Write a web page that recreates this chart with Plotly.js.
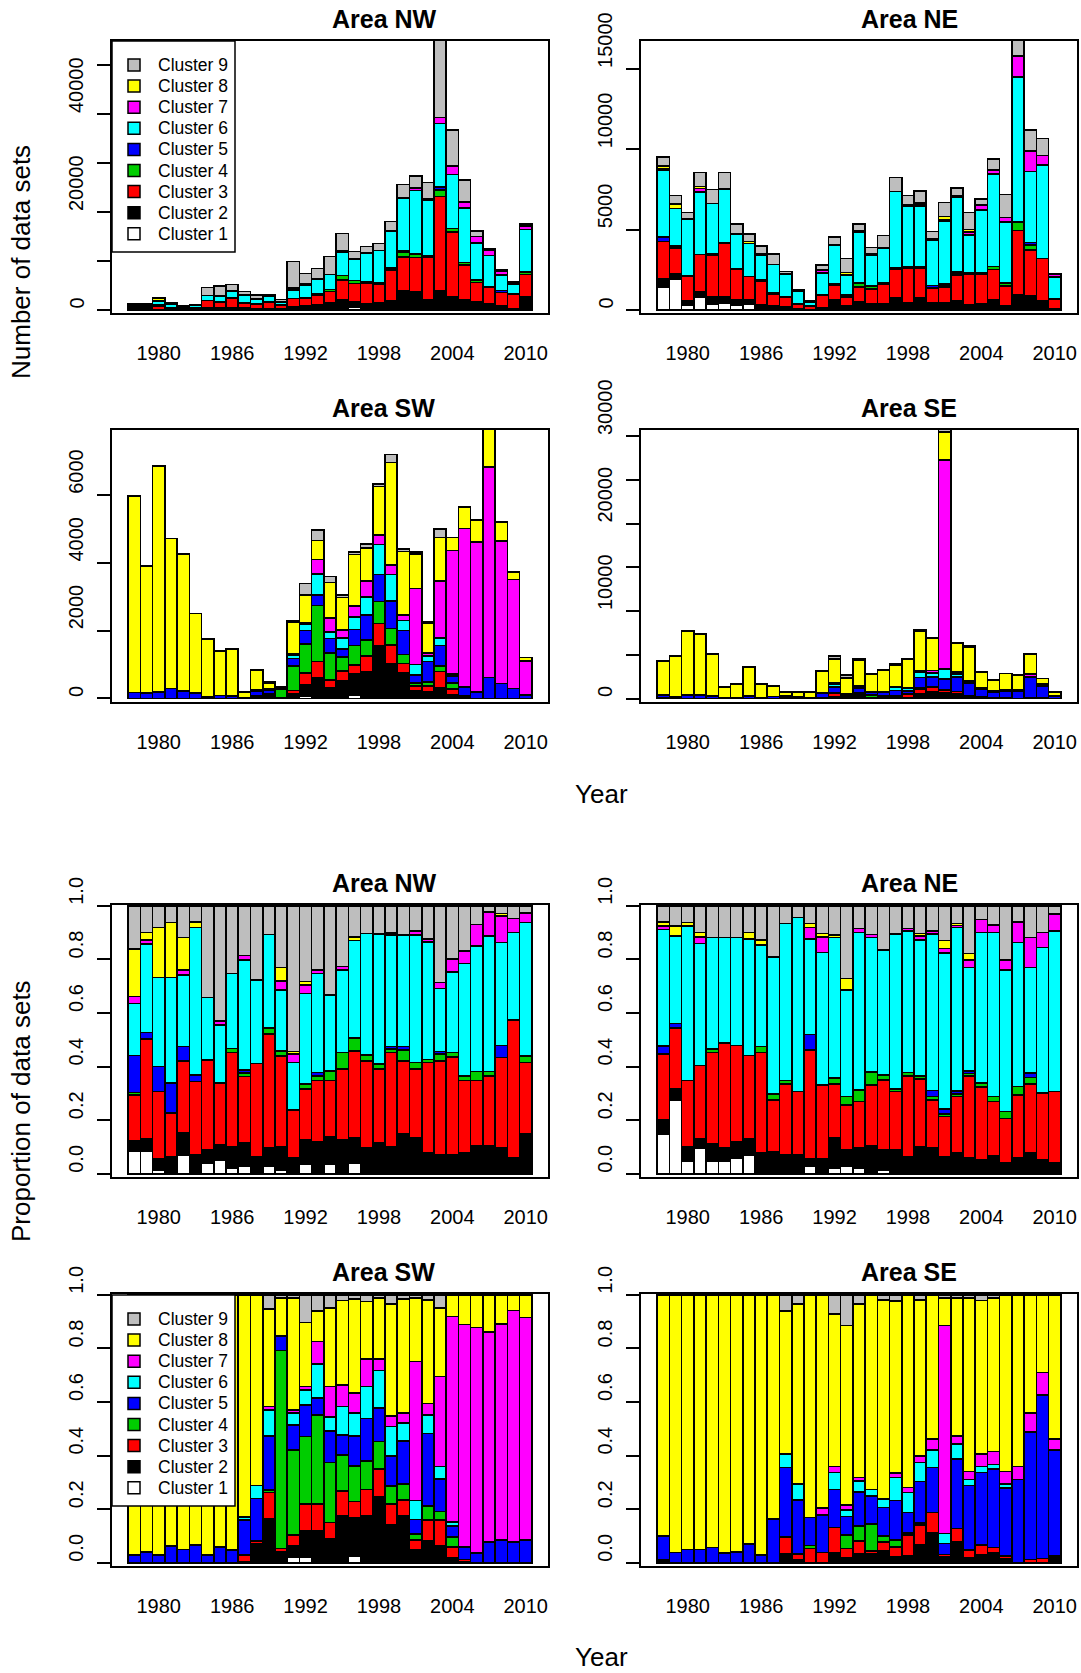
<!DOCTYPE html>
<html>
<head>
<meta charset="utf-8">
<script src="https://cdn.plot.ly/plotly-3.0.1.min.js"></script>
<style>html,body{margin:0;padding:0;background:#fff;}</style>
</head>
<body>
<div id="chart" style="width:1081px;height:1673px;"></div>
<script>
// Survey years (one bar per year)
const years = [1978,1979,1980,1981,1982,1983,1984,1985,1986,1987,1988,1989,1990,
  1991,1992,1993,1994,1995,1996,1997,1998,1999,2000,2001,2002,2003,2004,2005,
  2006,2007,2008,2009,2010];
const tickYears = [1980,1986,1992,1998,2004,2010];

const clusterNames = ['Cluster 1','Cluster 2','Cluster 3','Cluster 4','Cluster 5',
  'Cluster 6','Cluster 7','Cluster 8','Cluster 9'];
const clusterColors = ['#FFFFFF','#000000','#FF0000','#00CD00','#0000FF',
  '#00FFFF','#FF00FF','#FFFF00','#BEBEBE'];

// Total number of data sets per year, by area
const nwTotal = [1220,1220,2590,1500,950,1160,4560,4900,5240,3740,3060,3060,2180,
  9930,7480,8500,10880,15650,11900,12930,13600,18030,25650,27400,25990,55000,
  36730,26530,16120,12520,8300,5780,17550];
const neTotal = [9540,7120,6080,8550,7510,8550,5350,4730,4000,3490,2390,1240,560,
  2800,4560,3200,5350,3900,4630,8240,7120,7410,4880,6680,7610,6080,6890,9380,
  7200,16800,11200,10680,2280];
const swTotal = [5980,3920,6870,4730,4270,2510,1750,1410,1460,200,840,490,350,
  2290,3400,4970,3600,3050,4320,4560,6340,7210,4410,4320,2270,5000,4760,5650,
  5270,7950,5220,3740,1210];
const seTotal = [4310,4850,7750,7370,5080,1340,1640,3630,1640,1450,760,760,760,
  3170,4890,2670,4500,2790,3240,3930,4500,7900,6950,30800,6370,5990,3050,2100,
  2860,2670,5080,2290,760];

// Share of each cluster (%) per year: [C1, C2, C3, C4, C5, C6, C7, C8, C9]
const nwShare = [
  [8.3,4.1,17.0,1.0,13.7,19.5,2.5,17.8,16.1],
  [8.3,4.7,37.2,0,2.5,33.0,1.5,2.8,10.0],
  [1.5,4.0,25.2,0,9.3,33.3,0,18.6,8.1],
  [0.6,5.9,16.1,0,11.2,39.5,0,20.5,6.2],
  [7.1,8.1,26.9,0,5.4,26.7,1.8,12.2,11.8],
  [0,7.1,27.3,0,2.5,55.0,0,2.1,6.0],
  [4.0,4.9,33.6,0,0,23.3,0,0,34.2],
  [5.2,5.6,23.0,0,0,21.7,1.6,0,42.9],
  [2.1,8.1,35.0,1.6,0,28.0,0,0,25.2],
  [2.7,8.7,24.9,1.2,1.3,41.0,1.6,0,18.6],
  [0.6,5.9,34.7,0,0,31.1,0,0,27.7],
  [2.7,6.9,42.6,2.1,0,35.0,0,0,10.7],
  [1.5,8.7,33.8,1.8,0,22.8,3.4,5.0,23.0],
  [0.6,5.5,17.8,0,0,17.7,3.0,1.0,54.4],
  [3.4,9.3,19.0,1.7,0,33.9,3.1,1.3,28.3],
  [0.6,11.4,22.8,1.7,1.3,37.0,1.2,0,24.0],
  [3.4,10.5,20.9,3.6,0,28.3,0,0,33.3],
  [0.6,12.1,26.4,6.1,0,30.8,1.3,0,22.7],
  [4.0,9.3,32.5,4.8,0,36.4,0,1.4,11.6],
  [0,9.6,32.5,2.2,0,45.4,0,0,10.3],
  [0,11.4,27.7,1.9,0,48.4,0,0,10.6],
  [0,10.2,35.1,1.2,1.0,41.6,0.8,0,10.1],
  [0,14.9,27.2,4.1,1.3,41.6,0,0,10.9],
  [0.6,12.7,25.8,2.4,0,47.6,1.6,0,9.3],
  [0,7.7,33.9,1.1,0,43.9,1.0,0,12.4],
  [0,7.1,35.0,2.5,1.0,23.6,2.2,0,28.6],
  [0,7.1,36.4,1.8,0,30.1,4.7,0,19.9],
  [0,7.7,27.1,1.8,0,41.9,4.7,0,16.8],
  [0,10.6,24.2,3.3,0,47.0,7.9,0,7.0],
  [0,10.6,26.0,1.5,0,50.7,9.0,0,2.2],
  [0,9.6,33.8,0,4.4,38.5,9.8,1.0,2.9],
  [0,5.8,51.6,0,0,32.7,5.2,0,4.7],
  [0.6,14.2,26.7,2.5,0,49.8,3.6,0,2.6]
];
const neShare = [
  [14.9,5.2,24.5,0,3.1,43.5,1.2,1.6,6.0],
  [27.3,4.6,22.4,0,1.8,32.7,0,3.6,7.6],
  [4.6,5.3,24.9,0,0,57.7,0,1.3,6.2],
  [9.6,3.4,27.4,0,0,45.6,2.4,1.6,10.0],
  [4.6,6.6,34.1,1.3,0,41.6,0,0,11.8],
  [4.6,5.0,39.1,0,0,39.5,0,0,11.8],
  [5.8,6.0,36.0,0,0,40.4,0,0,11.8],
  [7.1,5.9,31.1,0,0,43.5,0,2.4,10.0],
  [0.6,7.1,37.6,2.2,0,37.8,0,1.9,12.8],
  [0.6,7.7,19.3,2.2,0,51.2,0,0,19.0],
  [0.6,6.5,26.3,1.4,0,58.6,0,0,6.6],
  [0,7.1,23.6,0,0,65.0,0,0,4.3],
  [2.7,2.8,40.7,0,5.8,35.6,4.3,1.5,6.6],
  [0.6,4.9,27.7,0,0,49.4,5.8,1.3,10.3],
  [2.1,11.2,20.1,2.3,0,52.5,0,0.9,10.9],
  [2.7,6.2,16.8,3.1,0,39.8,0,4.3,27.1],
  [2.1,7.5,17.4,4.3,0,58.8,1.5,0,8.4],
  [0.6,10.0,22.6,4.7,0,50.3,1.1,0,10.7],
  [1.2,7.7,26.1,1.9,0,46.6,0,0,16.5],
  [0,8.9,21.8,1.0,0,57.7,0,0,10.6],
  [0,6.5,30.1,1.2,0,52.9,0.9,0,8.4],
  [0,9.9,25.5,1.1,0,50.7,1.6,0.9,10.3],
  [0,9.6,18.0,1.2,2.3,58.3,1.2,0,9.4],
  [0.6,5.9,14.9,1.0,1.8,58.3,1.6,2.9,13.0],
  [0,7.7,21.1,1.0,1.1,61.0,0.7,0.8,6.6],
  [0,5.8,30.8,0.8,1.0,38.6,2.8,2.4,17.8],
  [0,5.2,27.1,1.5,0,56.3,4.8,0,5.1],
  [0,6.8,20.2,1.8,0,61.3,2.7,0,7.2],
  [0,4.0,16.7,2.5,0,52.8,3.8,0,20.2],
  [0,5.8,23.6,3.1,0,53.8,7.7,0,6.0],
  [0,7.7,25.8,2.5,1.5,39.5,11.2,0,11.8],
  [0,5.2,24.9,0,0,54.4,5.6,0,9.9],
  [0,4.0,26.7,0,0,60.0,6.2,0,3.1]
];
const swShare = [
  [0,0,0,0,2.9,0,0,97.1,0],
  [0,0,0,0,4.1,0,0,95.9,0],
  [0,0,0,0,2.9,0,0,97.1,0],
  [0,0,0,0,6.2,0,0,93.8,0],
  [0,0,0,0,5.0,0,0,95.0,0],
  [0,0,0,0,6.6,0,0,93.4,0],
  [0,0,0,0,2.9,0,0,97.1,0],
  [0,0,0,0,6.0,0,0,94.0,0],
  [0,0,0,0,4.7,0,0,95.3,0],
  [0,0.5,2.3,0,13.2,1.0,0,83.0,0],
  [0,7.2,0.9,0,15.9,4.8,0,71.2,0],
  [0.4,16.2,9.6,0.9,20.3,9.6,1.3,36.3,5.4],
  [0,4.1,1.3,73.8,5.5,0,0,14.1,1.2],
  [2.0,4.2,4.1,31.8,9.3,4.4,1.2,41.8,1.2],
  [2.0,10.0,9.9,25.2,11.8,5.6,1.3,23.9,10.3],
  [0,12.0,9.9,33.3,6.2,12.7,8.5,11.4,6.0],
  [0,8.8,6.3,22.3,11.8,5.3,11.3,29.2,5.0],
  [0,17.4,9.5,13.3,7.5,10.6,8.1,31.5,2.1],
  [2.5,14.4,5.9,13.3,11.2,8.5,7.5,35.2,1.5],
  [0,17.4,10.0,10.6,15.9,11.9,10.3,21.4,2.5],
  [0,24.7,10.2,10.3,12.5,14.0,4.4,22.7,1.2],
  [0,14.3,7.6,6.7,11.3,10.9,4.0,41.8,3.4],
  [0,17.4,6.0,6.0,16.1,6.6,3.7,42.7,1.5],
  [0,5.0,3.5,2.2,5.5,7.0,51.9,23.7,1.2],
  [0,8.2,7.7,5.3,27.1,6.9,4.3,38.6,1.9],
  [0,6.4,9.5,3.2,12.2,4.6,33.6,25.5,5.0],
  [0,2.0,4.0,3.7,4.1,1.5,76.6,8.1,0],
  [0,0.5,0.7,0,4.7,0,83.0,11.1,0],
  [0,0,0,0,3.7,0,84.1,12.2,0],
  [0,0,0,0,7.8,0,78.3,13.9,0],
  [0,0,0,0,8.5,0,80.5,11.0,0],
  [0,0,0,0,7.8,0,86.3,5.9,0],
  [0,0,0,0,8.5,0,83.0,8.5,0]
];
const seShare = [
  [0,1.2,0,0,8.8,0,0,90.0,0],
  [0,0,0,0,3.9,0,0,96.1,0],
  [0,0,0,0,5.0,0,0,95.0,0],
  [0,0,0,0,5.0,0,0,95.0,0],
  [0,0,0,0,5.7,0,0,94.3,0],
  [0,0,0,0,3.7,0,0,96.3,0],
  [0,0,0,0,4.1,0,0,95.9,0],
  [0,0,0,0,7.0,0,0,93.0,0],
  [0,0,0,0,2.9,0,0,97.1,0],
  [0,0,0,0,16.3,0,0,83.7,0],
  [0,3.2,6.5,0,25.9,5.0,0,53.4,6.0],
  [0,1.2,2.0,0,20.2,6.0,0,67.1,3.5],
  [0,0,5.4,1.0,10.5,0,0,83.1,0],
  [0,0,3.9,0,13.9,0,2.7,79.5,0],
  [0,3.7,9.5,0,14.2,6.3,2.2,57.0,7.1],
  [0,2.0,3.4,4.9,6.9,2.5,1.8,67.0,11.5],
  [0,3.2,5.0,5.6,12.7,4.0,1.4,64.7,3.4],
  [0,3.5,0.9,10.0,10.6,2.4,0,72.6,0],
  [0,4.5,3.3,2.3,10.6,3.0,0,74.4,1.9],
  [0,2.2,3.8,2.5,14.7,8.6,1.8,64.2,2.2],
  [0,2.5,7.8,0.9,7.6,7.5,1.8,71.9,0],
  [0,6.8,7.3,0.8,15.4,7.1,2.5,58.2,1.9],
  [0,11.2,7.6,0,16.7,6.6,4.0,53.9,0],
  [0,2.2,0.9,0,4.1,3.8,77.5,10.3,1.2],
  [0,7.8,5.0,0,25.9,5.6,3.0,51.5,1.2],
  [0,2.0,2.7,0,24.1,2.3,2.9,64.8,1.2],
  [0,2.9,3.7,0,27.1,2.2,4.7,57.3,2.1],
  [0,3.9,1.8,0,29.3,1.7,4.8,57.3,1.2],
  [0,1.6,0.9,0,25.3,1.6,4.6,66.0,0],
  [0,0,0,0,31.1,0,4.8,64.1,0],
  [0,0,1.2,0,47.7,0,6.9,44.2,0],
  [0,0,1.6,0,61.0,0,8.4,29.0,0],
  [0,2.5,0,0,39.6,0,4.0,53.9,0]
];

// ---- page geometry (pixels) ----
const W = 1081, H = 1673;
const colX = [[112, 548], [641, 1077]];
const rowY = [[41, 313], [430, 702], [905, 1177], [1294, 1566]];
const yLabelX = [76, 605];
const FONT = 'Liberation Sans, Arial, Helvetica, sans-serif';

const px = x => x / W;
const py = y => 1 - y / H;

const countAxes = {
  NW: {range: [-612, 54900], vals: [0,10000,20000,30000,40000,50000],
       text: ['0','','20000','','40000','']},
  NE: {range: [-187, 16740], vals: [0,5000,10000,15000],
       text: ['0','5000','10000','15000']},
  SW: {range: [-104, 7930], vals: [0,2000,4000,6000],
       text: ['0','2000','4000','6000']},
  SE: {range: [-400, 30690], vals: [0,5000,10000,15000,20000,25000,30000],
       text: ['0','','10000','','20000','','30000']}
};
const propAxis = {range: [-0.012, 1.003], vals: [0,0.2,0.4,0.6,0.8,1.0],
  text: ['0.0','0.2','0.4','0.6','0.8','1.0']};

const areas = {
  NW: {total: nwTotal, share: nwShare},
  NE: {total: neTotal, share: neShare},
  SW: {total: swTotal, share: swShare},
  SE: {total: seTotal, share: seShare}
};

const panels = [
  {area: 'NW', kind: 'count', row: 0, col: 0},
  {area: 'NE', kind: 'count', row: 0, col: 1},
  {area: 'SW', kind: 'count', row: 1, col: 0},
  {area: 'SE', kind: 'count', row: 1, col: 1},
  {area: 'NW', kind: 'prop', row: 2, col: 0},
  {area: 'NE', kind: 'prop', row: 2, col: 1},
  {area: 'SW', kind: 'prop', row: 3, col: 0},
  {area: 'SE', kind: 'prop', row: 3, col: 1}
];

const traces = [];
const layout = {
  width: W, height: H,
  margin: {l: 0, r: 0, t: 0, b: 0},
  paper_bgcolor: '#ffffff', plot_bgcolor: '#ffffff',
  barmode: 'stack', bargap: 0,
  showlegend: false,
  font: {family: FONT, color: '#000000', size: 20},
  annotations: [], shapes: []
};

panels.forEach((p, i) => {
  const n = i + 1;
  const xk = n === 1 ? 'xaxis' : 'xaxis' + n;
  const yk = n === 1 ? 'yaxis' : 'yaxis' + n;
  const xr = n === 1 ? 'x' : 'x' + n;
  const yr = n === 1 ? 'y' : 'y' + n;
  const [x0, x1] = colX[p.col];
  const [y0, y1] = rowY[p.row];
  const ax = p.kind === 'count' ? countAxes[p.area] : propAxis;
  const data = areas[p.area];

  for (let k = 0; k < 9; k++) {
    const vals = years.map((yr_, j) => {
      const row = data.share[j];
      const sum = row.reduce((a, b) => a + b, 0);
      const frac = row[k] / sum;
      if (row[k] === 0) return null;
      return p.kind === 'count' ? frac * data.total[j] : frac;
    });
    traces.push({
      type: 'bar', x: years, y: vals, xaxis: xr, yaxis: yr,
      name: clusterNames[k], width: 1,
      marker: {color: clusterColors[k], line: {color: '#000000', width: 1.6}},
      hoverinfo: 'skip'
    });
  }

  layout[xk] = {
    domain: [px(x0), px(x1)], anchor: yr,
    range: [1976.18, 2011.82], fixedrange: true,
    tickmode: 'array', tickvals: tickYears, ticktext: tickYears.map(String),
    ticks: '', ticklabelstandoff: 21,
    tickfont: {family: FONT, size: 20, color: '#000'},
    showline: true, mirror: true, linecolor: '#000', linewidth: 2,
    showgrid: false, zeroline: false
  };
  layout[yk] = {
    domain: [py(y1), py(y0)], anchor: xr,
    range: ax.range, fixedrange: true,
    tickmode: 'array', tickvals: ax.vals,
    ticks: 'outside', ticklen: 13, tickwidth: 2, tickcolor: '#000',
    showticklabels: false,
    showline: true, mirror: true, linecolor: '#000', linewidth: 2,
    showgrid: false, zeroline: false
  };

  // Vertical tick labels: each label starts at its tick and reads upward
  ax.vals.forEach((v, t) => {
    if (!ax.text[t]) return;
    layout.annotations.push({
      text: ax.text[t], xref: 'paper', yref: yr,
      x: px(yLabelX[p.col]), y: v, xanchor: 'center', yanchor: 'bottom',
      textangle: -90, showarrow: false, borderpad: 0,
      font: {family: FONT, size: 20, color: '#000'}
    });
  });

  // Panel title, starting at the centre of the panel
  layout.annotations.push({
    text: '<b>Area ' + p.area + '</b>', xref: 'paper', yref: 'paper',
    x: px((x0 + x1) / 2), y: py(y0 - 22), xanchor: 'left', yanchor: 'middle',
    showarrow: false, font: {family: FONT, size: 25, color: '#000'}
  });
});

// Legends drawn inside the top-left count panel and the lower-left proportion panel
function addLegend(left, top) {
  const boxW = 123, boxH = 211;
  layout.shapes.push({
    type: 'rect', xref: 'paper', yref: 'paper', layer: 'above',
    x0: px(left), x1: px(left + boxW), y0: py(top + boxH), y1: py(top),
    fillcolor: '#ffffff', line: {color: '#000', width: 1.5}
  });
  for (let r = 0; r < 9; r++) {
    const k = 8 - r;
    const cy = top + 24 + r * 21.1;
    layout.shapes.push({
      type: 'rect', xref: 'paper', yref: 'paper', layer: 'above',
      x0: px(left + 16), x1: px(left + 28), y0: py(cy + 6), y1: py(cy - 6),
      fillcolor: clusterColors[k], line: {color: '#000', width: 1.5}
    });
    layout.annotations.push({
      text: clusterNames[k], xref: 'paper', yref: 'paper',
      x: px(left + 44), y: py(cy), xanchor: 'left', yanchor: 'middle',
      showarrow: false, font: {family: FONT, size: 17.5, color: '#000'}
    });
  }
}
addLegend(112, 41);
addLegend(112, 1295);

// Shared axis titles (y titles start at the middle of their block and read upward)
const axisTitles = [
  {text: 'Number of data sets', x: 21, y: 380, angle: -90, ya: 'bottom', xa: 'center'},
  {text: 'Proportion of data sets', x: 21, y: 1243, angle: -90, ya: 'bottom', xa: 'center'},
  {text: 'Year', x: 574, y: 794, angle: 0, ya: 'middle', xa: 'left'},
  {text: 'Year', x: 574, y: 1657, angle: 0, ya: 'middle', xa: 'left'}
];
axisTitles.forEach(t => layout.annotations.push({
  text: t.text, xref: 'paper', yref: 'paper', x: px(t.x), y: py(t.y),
  xanchor: t.xa, yanchor: t.ya, textangle: t.angle, showarrow: false,
  borderpad: 0, font: {family: FONT, size: 26, color: '#000'}
}));

Plotly.newPlot('chart', traces, layout, {staticPlot: true, displayModeBar: false});
</script>
</body>
</html>
